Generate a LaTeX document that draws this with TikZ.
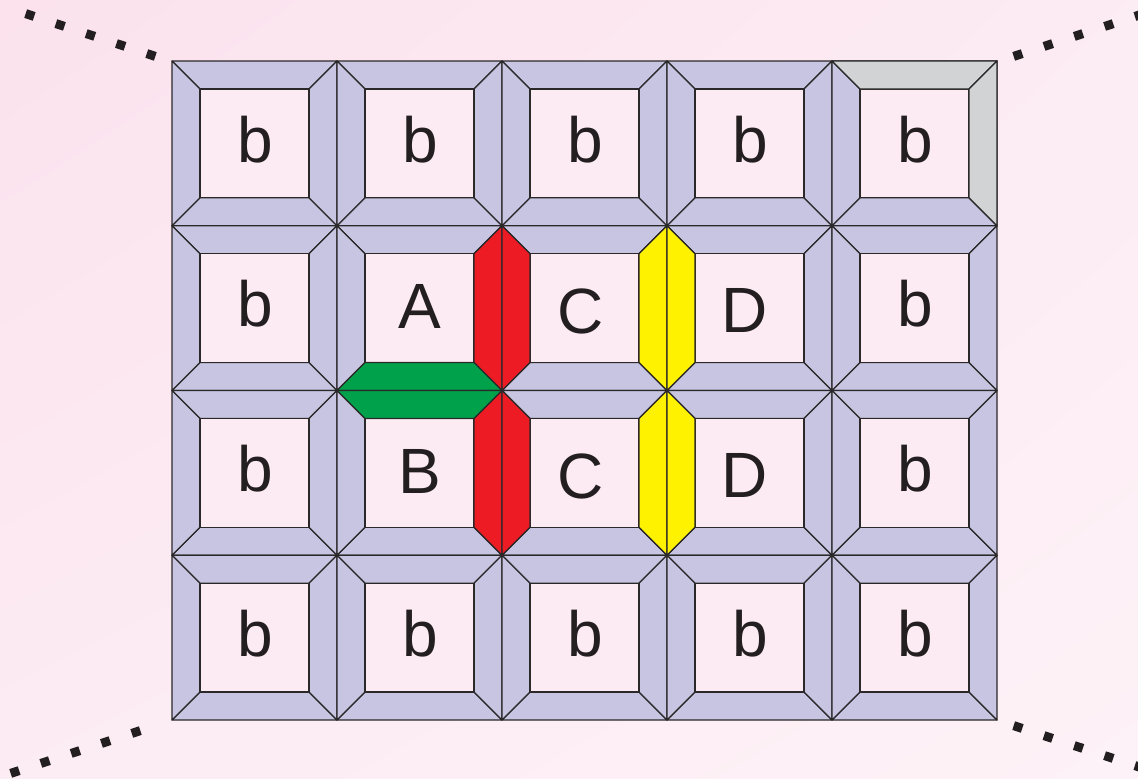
\documentclass[tikz,border=0pt]{standalone}
\usepackage{fontspec}
\setmainfont{Liberation Sans}
\usetikzlibrary{shadings}
\definecolor{bgA}{HTML}{FBE2ED}
\definecolor{bgB}{HTML}{FDF2F7}
\definecolor{lav}{HTML}{C7C5E1}
\definecolor{inpink}{HTML}{FDEBF3}
\definecolor{linec}{HTML}{2B2829}
\definecolor{redc}{HTML}{ED1C24}
\definecolor{yelc}{HTML}{FFF200}
\definecolor{grnc}{HTML}{00A14B}
\definecolor{gryc}{HTML}{D1D3D4}
\definecolor{txtc}{HTML}{231F20}
\tikzset{
  trap/.style={draw=linec, line width=1.15pt, line join=round},
  inner/.style={fill=inpink, draw=linec, line width=1.15pt},
  letter/.style={font=\fontsize{64}{64}\selectfont, text=txtc, anchor=base, inner sep=0pt},
  dots/.style={line width=9pt, draw=txtc, dash pattern=on 9pt off 22.9pt}
}
\newcommand\cellxy[2]{\pgfmathsetmacro\X{172+165*#1}\pgfmathsetmacro\Y{61+164.75*#2}%
  \pgfmathsetmacro\XR{\X+165}\pgfmathsetmacro\YB{\Y+164.75}%
  \pgfmathsetmacro\Xi{\X+28}\pgfmathsetmacro\Yi{\Y+28}%
  \pgfmathsetmacro\XRi{\XR-28}\pgfmathsetmacro\YBi{\YB-28}}
\newcommand\trT[3]{\cellxy{#1}{#2}\filldraw[trap,fill=#3] (\X,\Y)--(\XR,\Y)--(\XRi,\Yi)--(\Xi,\Yi)--cycle;}
\newcommand\trB[3]{\cellxy{#1}{#2}\filldraw[trap,fill=#3] (\X,\YB)--(\XR,\YB)--(\XRi,\YBi)--(\Xi,\YBi)--cycle;}
\newcommand\trL[3]{\cellxy{#1}{#2}\filldraw[trap,fill=#3] (\X,\Y)--(\Xi,\Yi)--(\Xi,\YBi)--(\X,\YB)--cycle;}
\newcommand\trR[3]{\cellxy{#1}{#2}\filldraw[trap,fill=#3] (\XR,\Y)--(\XRi,\Yi)--(\XRi,\YBi)--(\XR,\YB)--cycle;}
\begin{document}
\begin{tikzpicture}[x=1pt,y=-1pt]
\shade[upper left=bgA, upper right=bgB!60!bgA, lower left=bgB!60!bgA, lower right=bgB] (0,0) rectangle (1138,779);
\useasboundingbox (0,0) rectangle (1138,779);
% cells
\foreach \c in {0,...,4}{\foreach \r in {0,...,3}{
  \trT{\c}{\r}{lav}\trB{\c}{\r}{lav}\trL{\c}{\r}{lav}\trR{\c}{\r}{lav}
  \cellxy{\c}{\r}\filldraw[inner] (\Xi,\Yi) rectangle (\XRi,\YBi);
}}
% coloured trapezoids
\trR{1}{1}{redc}\trL{2}{1}{redc}
\trR{1}{2}{redc}\trL{2}{2}{redc}
\trR{2}{1}{yelc}\trL{3}{1}{yelc}
\trR{2}{2}{yelc}\trL{3}{2}{yelc}
\trB{1}{1}{grnc}\trT{1}{2}{grnc}
\trT{4}{0}{gryc}\trR{4}{0}{gryc}
% letters
\foreach \c/\r/\n in {0/0/b00,1/0/b10,2/0/b20,3/0/b30,4/0/b40,0/1/b01,4/1/b41,0/2/b02,4/2/b42,0/3/b03,1/3/b13,2/3/b23,3/3/b33,4/3/b43}{
  \node[letter] (\n) at ({255.5+165*\c},{162+164.75*\r}) {b};
}
\node[letter] (A) at (419.5,328) {A};
\node[letter] (B) at (419.5,493) {B};
\node[letter] (C1) at (581,333) {C};
\node[letter] (D1) at (745,332) {D};
\node[letter] (C2) at (581,498) {C};
\node[letter] (D2) at (745,497) {D};
% dotted corner lines
\coordinate (tl0) at (155.3,56.4); \coordinate (tl1) at (25.7,13.6);
\coordinate (tr0) at (1013.7,56.4); \coordinate (tr1) at (1150,11.5);
\coordinate (bl0) at (140.3,730.6); \coordinate (bl1) at (10.7,773.4);
\coordinate (br0) at (1013.7,725.6); \coordinate (br1) at (1150,770.6);
\draw[dots] (tl0) -- (tl1);
\draw[dots] (tr0) -- (tr1);
\draw[dots] (bl0) -- (bl1);
\draw[dots] (br0) -- (br1);
\end{tikzpicture}
\end{document}
